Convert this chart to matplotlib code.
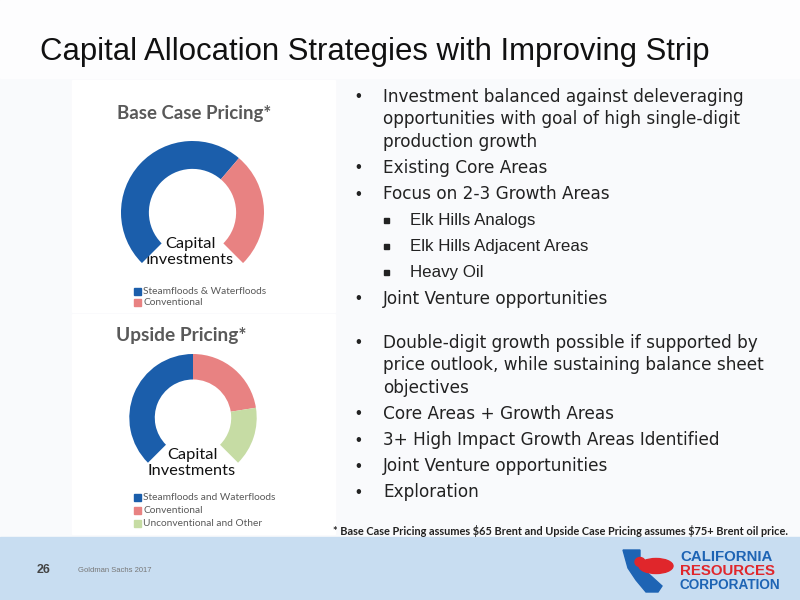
import matplotlib
matplotlib.use("Agg")
import matplotlib.pyplot as plt
from matplotlib.patches import Rectangle, Polygon, Ellipse

# 数据
slide_title = "Capital Allocation Strategies with Improving Strip"

base_title = "Base Case Pricing*"
base_labels = ["Steamfloods & Waterfloods", "Conventional"]
base_values = [65, 35]
base_colors = ["#1b5eab", "#e88282"]

up_title = "Upside Pricing*"
up_labels = ["Steamfloods and Waterfloods", "Conventional", "Unconventional and Other"]
up_values = [50, 30, 20]
up_colors = ["#1b5eab", "#e88282", "#c6dca4"]

center_label = "Capital\nInvestments"

top_bullets = [
    (0, "Investment balanced against deleveraging\nopportunities with goal of high single-digit\nproduction growth"),
    (0, "Existing Core Areas"),
    (0, "Focus on 2-3 Growth Areas"),
    (1, "Elk Hills Analogs"),
    (1, "Elk Hills Adjacent Areas"),
    (1, "Heavy Oil"),
    (0, "Joint Venture opportunities"),
]
bottom_bullets = [
    (0, "Double-digit growth possible if supported by\nprice outlook, while sustaining balance sheet\nobjectives"),
    (0, "Core Areas + Growth Areas"),
    (0, "3+ High Impact Growth Areas Identified"),
    (0, "Joint Venture opportunities"),
    (0, "Exploration"),
]
footnote = r"* Base Case Pricing assumes \$65 Brent and Upside Case Pricing assumes \$75+ Brent oil price."

W, H = 800, 600
fig = plt.figure(figsize=(8, 6), dpi=100)
fig.patch.set_facecolor("#f9fafc")

# 背景画布（像素坐标）
bg = fig.add_axes([0, 0, 1, 1])
bg.set_xlim(0, W)
bg.set_ylim(H, 0)
bg.axis("off")

bg.add_patch(Rectangle((0, 0), W, 78, color="#fdfdfe", zorder=0))
bg.add_patch(Rectangle((72, 80), 263, 232, color="white", zorder=0))
bg.add_patch(Rectangle((72, 314), 263, 220, color="white", zorder=0))
bg.add_patch(Rectangle((0, 537), W, 63, color="#c8ddf1", zorder=0))

bg.text(40, 52, slide_title, fontsize=22.4, family="Liberation Sans",
        color="#111111", va="center", ha="left")


def donut(cx, cy, r, hole, values, colors):
    ax = fig.add_axes([(cx - r) / W, 1 - (cy + r) / H, 2 * r / W, 2 * r / H])
    hidden = sum(values) / 3.0  # 270度仪表盘，底部留空
    wedges, _ = ax.pie(values + [hidden], colors=colors + ["none"],
                       startangle=225, counterclock=False,
                       wedgeprops=dict(width=1 - hole, linewidth=0))
    ax.set_xlim(-1, 1)
    ax.set_ylim(-1, 1)
    ax.set_aspect("equal")
    ax.axis("off")
    return wedges


def legend(x, y, labels, colors, dy):
    for i, (lab, col) in enumerate(zip(labels, colors)):
        bg.add_patch(Rectangle((x, y + i * dy - 3.5), 7, 7, color=col))
        bg.text(x + 9, y + i * dy, lab, fontsize=7.3, family="Lato",
                color="#595959", va="center", ha="left")


# Base Case
bg.text(194, 114, base_title, fontsize=13.4, family="Lato", weight="bold",
        color="#595959", ha="center", va="center")
donut(192.5, 212.5, 71.5, 0.61, base_values, base_colors)
bg.text(190, 252, center_label, fontsize=11.8, family="Lato", color="#111111",
        ha="center", va="center", linespacing=1.15)
legend(134, 291, base_labels, base_colors, 11.5)

# Upside
bg.text(181, 335, up_title, fontsize=13.8, family="Lato", weight="bold",
        color="#595959", ha="center", va="center")
donut(193, 417.7, 63.7, 0.6, up_values, up_colors)
bg.text(192, 463, center_label, fontsize=11.8, family="Lato", color="#111111",
        ha="center", va="center", linespacing=1.15)
legend(134, 497.5, up_labels, up_colors, 13)


def bullets(items, y0):
    y = y0
    for level, txt in items:
        lines = txt.split("\n")
        if level == 0:
            bg.text(355, y, "•", fontsize=12, family="Liberation Sans",
                    color="#222222", va="center")
            for k, ln in enumerate(lines):
                bg.text(383, y + k * 22.3, ln, fontsize=12.2, family="DejaVu Sans",
                        color="#222222", va="center")
        else:
            bg.add_patch(Rectangle((384, y - 2.2), 4.5, 4.5, color="#222222"))
            bg.text(410, y, lines[0], fontsize=12.2, family="Liberation Sans",
                    color="#222222", va="center")
        y += 22.3 * (len(lines) - 1) + 26.2


bullets(top_bullets, 97)
bullets(bottom_bullets, 343)

bg.text(333, 531, footnote, fontsize=7.9, family="Lato", weight="bold",
        color="#222222", va="center", ha="left")

# 页脚
bg.text(37, 570, "26", fontsize=9, family="Liberation Sans", weight="bold",
        color="#444444", va="center")
bg.text(78, 570, "Goldman Sachs 2017", fontsize=5.5, family="Liberation Sans",
        color="#777777", va="center")

# 公司标志（简化）
ca = [(623, 550), (640, 550), (640, 566), (662, 586), (658, 592), (646, 592),
      (636, 580), (628, 568)]
bg.add_patch(Polygon(ca, closed=True, color="#1e64b4", zorder=2))
bg.add_patch(Ellipse((656, 566), 34, 15, color="#e0262b", zorder=3))
bg.add_patch(Ellipse((640, 562), 10, 9, color="#e0262b", zorder=3))
bg.text(680, 557, "CALIFORNIA", fontsize=10.8, family="Liberation Sans",
        weight="bold", color="#1e64b4", va="center", ha="left")
bg.text(680, 571, "RESOURCES", fontsize=10.8, family="Liberation Sans",
        weight="bold", color="#e0262b", va="center", ha="left")
bg.text(680, 585, "CORPORATION", fontsize=9.8, family="Liberation Sans",
        weight="bold", color="#1e64b4", va="center", ha="left")

fig.savefig("out.png", dpi=100, facecolor=fig.get_facecolor())
